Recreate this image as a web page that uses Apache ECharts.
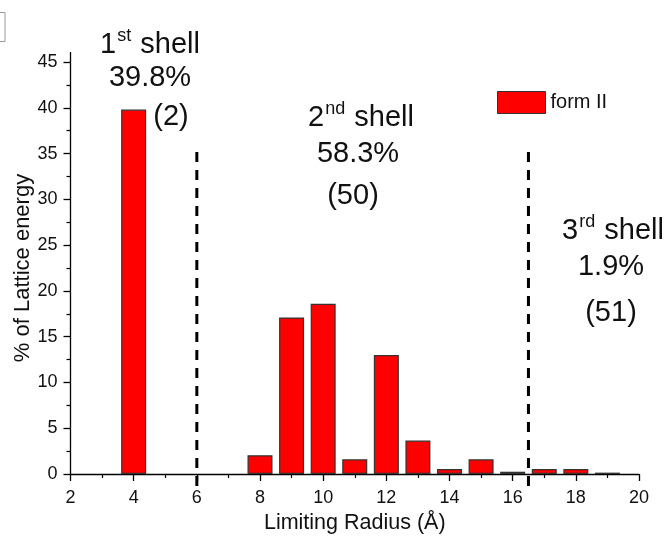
<!DOCTYPE html>
<html>
<head>
<meta charset="utf-8">
<script src="https://cdn.jsdelivr.net/npm/echarts@6/dist/echarts.min.js"></script>
<style>
html,body{margin:0;padding:0;background:#fff;}
#chart{width:668px;height:541px;}
</style>
</head>
<body>
<div id="chart"></div>
<script>
// Data
const radii = [4, 8, 9, 10, 11, 12, 13, 14, 15, 16, 17, 18, 19];
const energyPct = [39.8, 2.05, 17.1, 18.6, 1.6, 13.0, 3.65, 0.55, 1.6, 0.25, 0.55, 0.55, 0.15];
const shellBoundaries = [6, 16.5];
const boundaryTops = [35.4, 35.7];
const boundaryBottom = -1.3;
const shellOrdinals = [['1', 'st'], ['2', 'nd'], ['3', 'rd']];
const shellPercents = ['39.8%', '58.3%', '1.9%'];
const shellCounts = ['(2)', '(50)', '(51)'];
const seriesName = 'form II';

const FONT = 'Liberation Sans, Arial, sans-serif';
const chart = echarts.init(document.getElementById('chart'));

const barData = radii.map((r, i) => [r, energyPct[i]]);

const boundarySeries = shellBoundaries.map((b, i) => ({
  type: 'line',
  data: [[b, boundaryBottom], [b, boundaryTops[i]]],
  clip: false,
  symbol: 'none',
  silent: true,
  lineStyle: { color: '#000', width: 3, type: [10, 8] },
  z: 5
}));

// annotation positions (pixels)
const ann = [
  { x: 150, y: 43, px: 150, py: 78, cx: 171, cy: 117 },
  { x: 361, y: 116, px: 358, py: 154, cx: 353, cy: 196 },
  { x: 613, y: 229, px: 611, py: 267, cx: 611, cy: 313 }
];
const graphics = [];
ann.forEach((a, i) => {
  graphics.push({
    type: 'text', x: a.x, y: a.y,
    style: {
      text: '{b|' + shellOrdinals[i][0] + '}{s|' + shellOrdinals[i][1] + '}{b| shell}',
      rich: {
        b: { fontSize: 29, fontFamily: FONT, fill: '#111', lineHeight: 32, verticalAlign: 'bottom' },
        s: { fontSize: 18, fontFamily: FONT, fill: '#111', lineHeight: 32, verticalAlign: 'top', padding: [0, 1, 0, 1] }
      },
      textAlign: 'center', textVerticalAlign: 'middle'
    }
  });
  graphics.push({
    type: 'text', x: a.px, y: a.py,
    style: { text: shellPercents[i], fontSize: 29, fontFamily: FONT, fill: '#111', textAlign: 'center', textVerticalAlign: 'middle' }
  });
  graphics.push({
    type: 'text', x: a.cx, y: a.cy,
    style: { text: shellCounts[i], fontSize: 29, fontFamily: FONT, fill: '#111', textAlign: 'center', textVerticalAlign: 'middle' }
  });
});
// small extension of y axis above the top tick
graphics.push({ type: 'line', shape: { x1: 70.5, y1: 52, x2: 70.5, y2: 62 }, style: { stroke: '#000', lineWidth: 1.3 } });
// partial box at top-left corner
graphics.push({ type: 'rect', shape: { x: -20, y: 12.5, width: 25, height: 29 }, style: { fill: 'none', stroke: '#9a9a9a', lineWidth: 1 } });

chart.setOption({
  animation: false,
  backgroundColor: '#fff',
  grid: { left: 70.5, right: 29, top: 62, bottom: 67, containLabel: false, outerBoundsMode: 'none' },
  legend: {
    data: [seriesName],
    left: 492, top: 86,
    itemWidth: 48, itemHeight: 22, itemGap: 6,
    icon: 'rect',
    textStyle: { fontSize: 20, fontFamily: FONT, color: '#111' },
    itemStyle: { borderColor: '#333', borderWidth: 1 }
  },
  xAxis: {
    type: 'value', min: 2, max: 20, interval: 2,
    name: 'Limiting Radius (Å)', nameLocation: 'middle', nameGap: 38,
    nameMoveOverlap: false,
    nameTextStyle: { fontSize: 21.5, fontFamily: FONT, color: '#111' },
    axisLine: { show: true, lineStyle: { color: '#000', width: 1.3 } },
    axisTick: { show: true, inside: false, length: 7, lineStyle: { color: '#000', width: 1.3 } },
    minorTick: { show: true, splitNumber: 2, length: 4, lineStyle: { color: '#000', width: 1.2 } },
    axisLabel: { fontSize: 18, fontFamily: FONT, color: '#111', margin: 15 },
    splitLine: { show: false }
  },
  yAxis: {
    type: 'value', min: 0, max: 45, interval: 5,
    name: '% of Lattice energy', nameLocation: 'middle', nameGap: 37, nameRotate: 90,
    nameMoveOverlap: false,
    nameTextStyle: { fontSize: 22, fontFamily: FONT, color: '#111' },
    axisLine: { show: true, lineStyle: { color: '#000', width: 1.3 } },
    axisTick: { show: true, inside: false, length: 7, lineStyle: { color: '#000', width: 1.3 } },
    minorTick: { show: true, splitNumber: 2, length: 4, lineStyle: { color: '#000', width: 1.2 } },
    axisLabel: { fontSize: 18, fontFamily: FONT, color: '#111', margin: 13 },
    splitLine: { show: false }
  },
  series: [
    {
      name: seriesName,
      type: 'bar',
      data: barData,
      barWidth: 25,
      itemStyle: { color: '#ff0000', borderColor: '#333', borderWidth: 1.2 },
      z: 3
    }
  ].concat(boundarySeries),
  graphic: graphics
});
</script>
</body>
</html>
